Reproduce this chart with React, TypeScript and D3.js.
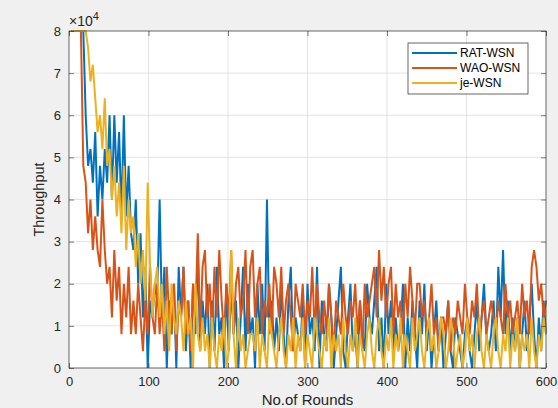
import React, { useEffect, useRef } from 'react';
import * as d3 from 'd3';

// rounds sampled every 3 rounds, 3..600
const rounds: number[] = d3.range(3, 601, 3);

// each char = throughput / 4000 in base 36 (k = 20 -> 80000)
const ratWsn =
  'kkkkkk' + 'fcdbe9cadb' + 'fafbe9f9c8' + '7a58360435' + '4a36042506' +
  '3614052714' + '2504162305' + '1524036152' + '305251a241' + '3152046132' +
  '1405231604' + '2153024610' + '3512042153' + '2461305241' + '3125031420' +
  '4251302413' + '0241032102' + '3102413521' + '2416372413' + '13024135203142';
const waoWsn =
  'kkkkkc' + 'b8a7976a75' + '6374625362' + '4253142632' + '5241632514' +
  '3624153826' + '7352637425' + '3725634726' + '7356243526' + '5362453154' +
  '3524362532' + '4253143253' + '2435241534' + '5637463562' + '5342536425' +
  '5342352313' + '3241324325' + '3243523423' + '4324325342' + '34253426764534';
const jeWsn =
  'kkkkkk' + 'kjhigefdgc' + 'dac9b8c7a8' + '968574b635' + '6352415324' +
  '3142305213' + '1203102130' + '1720312012' + '2130210321' + '0231021302' +
  '1302103210' + '2130212031' + '0213021023' + '1023102130' + '2130210312' +
  '3102312013' + '2013201201' + '3120231021' + '0231021302' + '13021203102132';

const seriesNames = ['RAT-WSN', 'WAO-WSN', 'je-WSN'];
const seriesColors = ['#0072BD', '#D95319', '#EDB120'];
const xTicks = [0, 100, 200, 300, 400, 500, 600];
const yTicks = [0, 1, 2, 3, 4, 5, 6, 7, 8];

const decode = (s: string) => s.split('').map((c) => parseInt(c, 36) * 4000);

export default function App() {
  const ref = useRef<SVGSVGElement>(null);

  useEffect(() => {
    const svg = d3.select(ref.current);
    svg.selectAll('*').remove();

    const W = 558;
    const H = 408;
    const margin = { top: 31, right: 12, bottom: 40, left: 69 };
    const width = W - margin.left - margin.right;
    const height = H - margin.top - margin.bottom;
    const font = 'Liberation Sans, Arial, sans-serif';
    const axisColor = '#262626';

    svg.append('rect').attr('width', W).attr('height', H).attr('fill', '#f0f0f0');

    const g = svg.append('g').attr('transform', `translate(${margin.left},${margin.top})`);
    g.append('rect').attr('width', width).attr('height', height).attr('fill', '#fff');

    const x = d3.scaleLinear().domain([0, 600]).range([0, width]);
    const y = d3.scaleLinear().domain([0, 80000]).range([height, 0]);

    // grid
    g.append('g')
      .selectAll('line')
      .data(xTicks.slice(1, -1))
      .enter().append('line')
      .attr('x1', (d) => x(d)).attr('x2', (d) => x(d))
      .attr('y1', 0).attr('y2', height)
      .attr('stroke', '#dcdcdc').attr('stroke-width', 0.8);
    g.append('g')
      .selectAll('line')
      .data(yTicks.slice(1, -1))
      .enter().append('line')
      .attr('x1', 0).attr('x2', width)
      .attr('y1', (d) => y(d * 10000)).attr('y2', (d) => y(d * 10000))
      .attr('stroke', '#dcdcdc').attr('stroke-width', 0.8);

    // series
    const all = [decode(ratWsn), decode(waoWsn), decode(jeWsn)];
    const line = d3.line<number>()
      .x((d, i) => x(rounds[i]))
      .y((d) => y(d));
    all.forEach((vals, k) => {
      g.append('path')
        .datum(vals)
        .attr('d', line)
        .attr('fill', 'none')
        .attr('stroke', seriesColors[k])
        .attr('stroke-width', 2)
        .attr('stroke-linejoin', 'miter');
    });

    // axes
    const styleAxis = (sel: any, labels: boolean) => {
      sel.select('.domain').remove();
      sel.selectAll('line').attr('stroke', axisColor).attr('stroke-width', 0.6);
      sel.selectAll('text')
        .attr('fill', labels ? axisColor : 'none')
        .style('font-family', font)
        .style('font-size', '13px');
    };

    g.append('g')
      .attr('transform', `translate(0,${height})`)
      .call(d3.axisBottom(x).tickValues(xTicks).tickSize(-5).tickPadding(9).tickFormat(d3.format('d')))
      .call((s) => styleAxis(s, true));
    g.append('g')
      .call(d3.axisTop(x).tickValues(xTicks).tickSize(-5).tickFormat(() => ''))
      .call((s) => styleAxis(s, false));
    g.append('g')
      .call(d3.axisLeft(y).tickValues(yTicks.map((d) => d * 10000)).tickSize(-5).tickPadding(8)
        .tickFormat((d) => String(+d / 10000)))
      .call((s) => styleAxis(s, true));
    g.append('g')
      .attr('transform', `translate(${width},0)`)
      .call(d3.axisRight(y).tickValues(yTicks.map((d) => d * 10000)).tickSize(-5).tickFormat(() => ''))
      .call((s) => styleAxis(s, false));

    g.append('rect')
      .attr('width', width).attr('height', height)
      .attr('fill', 'none').attr('stroke', axisColor).attr('stroke-width', 0.7);

    // exponent
    const ex = g.append('text')
      .attr('x', 0).attr('y', -5)
      .attr('fill', axisColor)
      .style('font-family', font).style('font-size', '14px');
    ex.append('tspan').text('\u00d710');
    ex.append('tspan').attr('dy', -6).style('font-size', '11px').text('4');

    // axis titles
    svg.append('text')
      .attr('x', margin.left + width / 2).attr('y', 405)
      .attr('text-anchor', 'middle')
      .attr('fill', axisColor)
      .style('font-family', font).style('font-size', '15px')
      .text('No.of Rounds');
    svg.append('text')
      .attr('transform', `translate(44,${margin.top + height / 2}) rotate(-90)`)
      .attr('text-anchor', 'middle')
      .attr('fill', axisColor)
      .style('font-family', font).style('font-size', '14.5px')
      .text('Throughput');

    // legend
    const lg = svg.append('g').attr('transform', 'translate(408,43)');
    lg.append('rect')
      .attr('width', 120).attr('height', 51)
      .attr('fill', '#fff').attr('stroke', axisColor).attr('stroke-width', 0.7);
    seriesNames.forEach((name, k) => {
      const yy = 10 + k * 15;
      lg.append('line')
        .attr('x1', 4).attr('x2', 49).attr('y1', yy).attr('y2', yy)
        .attr('stroke', seriesColors[k]).attr('stroke-width', 2);
      lg.append('text')
        .attr('x', 52).attr('y', yy + 4)
        .attr('fill', '#000')
        .style('font-family', font).style('font-size', '12px')
        .text(name);
    });
  }, []);

  return (
    <svg ref={ref} width={558} height={408}
      style={{ position: 'absolute', left: 0, top: 0, display: 'block' }} />
  );
}
